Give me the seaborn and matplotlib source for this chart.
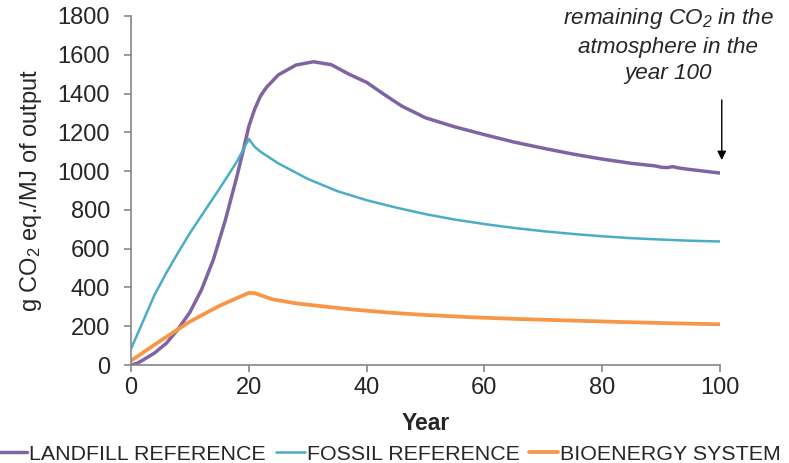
import numpy as np
import pandas as pd
import matplotlib
matplotlib.use("Agg")
import matplotlib.pyplot as plt
import seaborn as sns

# Cumulative CO2 in the atmosphere (g CO2 eq./MJ of output) by year
landfill_years = [0, 1, 2, 4, 6, 8, 10, 12, 14, 16, 18, 19, 20, 21, 22, 23, 25, 28, 31,
                  34, 37, 40, 43, 46, 50, 55, 60, 65, 70, 75, 80, 85, 88, 89, 90, 91,
                  92, 93, 95, 100]
landfill_vals = [0, 8, 25, 62, 112, 185, 272, 390, 545, 745, 975, 1100, 1230, 1320,
                 1388, 1432, 1496, 1547, 1564, 1549, 1500, 1458, 1395, 1335, 1275,
                 1228, 1188, 1150, 1118, 1088, 1062, 1040, 1030, 1027, 1020, 1018,
                 1023, 1016, 1008, 990]

fossil_years = [0, 2, 4, 6, 8, 10, 12, 14, 16, 18, 20, 21, 22, 25, 30, 35, 40, 45, 50,
                55, 60, 65, 70, 75, 80, 85, 90, 95, 100]
fossil_vals = [83, 222, 362, 475, 580, 680, 772, 863, 955, 1050, 1166, 1125, 1100, 1040,
               960, 897, 850, 812, 778, 750, 727, 707, 690, 676, 664, 654, 647, 641, 637]

bio_years = [0, 5, 10, 15, 20, 21, 24, 28, 33, 38, 44, 50, 58, 66, 75, 83, 92, 100]
bio_vals = [22, 125, 224, 305, 372, 370, 339, 318, 301, 285, 270, 258, 246, 237, 229,
            222, 215, 210]

series_names = ["LANDFILL REFERENCE", "FOSSIL REFERENCE", "BIOENERGY SYSTEM"]
colors = ["#8064A2", "#4BACC6", "#F79646"]
widths = [2.5, 1.8, 2.7]

sns.set_style("ticks")
plt.rcParams["font.family"] = ["Liberation Sans", "DejaVu Sans"]
plt.rcParams["mathtext.default"] = "regular"

fig = plt.figure(figsize=(7.89, 4.63), dpi=100)
ax = fig.add_axes([131 / 789, 1 - 365 / 463, (720 - 131) / 789, (365 - 16) / 463])

data = [(landfill_years, landfill_vals), (fossil_years, fossil_vals), (bio_years, bio_vals)]
for (xs, ys), name, c, lw in zip(data, series_names, colors, widths):
    df = pd.DataFrame({"Year": xs, "value": ys})
    sns.lineplot(data=df, x="Year", y="value", ax=ax, color=c, linewidth=lw,
                 label=name, legend=False)

ax.set_xlim(0, 100)
ax.set_ylim(0, 1800)
ax.set_xticks(np.arange(0, 101, 20))
ax.set_yticks(np.arange(0, 1801, 200))
ax.tick_params(axis="both", labelsize=17, color="#868686", length=5, width=1.2,
               direction="out")
ax.tick_params(axis="y", pad=10)
ax.tick_params(axis="x", pad=4)
for s in ["top", "right"]:
    ax.spines[s].set_visible(False)
for s in ["left", "bottom"]:
    ax.spines[s].set_color("#868686")
    ax.spines[s].set_linewidth(1.2)

ax.set_xlabel("Year", fontsize=16.5, fontweight="bold", labelpad=9)
ax.set_ylabel("g CO$_2$ eq./MJ of output", fontsize=17, labelpad=10)

# Arrow pointing at the final value
ax.annotate("", xy=(100.3, 1057), xytext=(100.3, 1367),
            arrowprops=dict(arrowstyle="-|>", color="black", lw=1.0,
                            mutation_scale=13, shrinkA=0, shrinkB=0),
            annotation_clip=False)
fig.text(668 / 789, 1 - 6 / 463,
         "remaining CO$_2$ in the\natmosphere in the\nyear 100",
         ha="center", va="top", fontsize=16.2, style="italic", linespacing=1.35)

handles, labels = ax.get_legend_handles_labels()
fig.legend(handles, labels, loc="center left", bbox_to_anchor=(-0.002, 1 - 454 / 463),
           ncol=3, frameon=False, fontsize=15.4, handlelength=1.35, handletextpad=0.1,
           columnspacing=0.45, borderpad=0, borderaxespad=0)

fig.savefig("out.png", dpi=100)
